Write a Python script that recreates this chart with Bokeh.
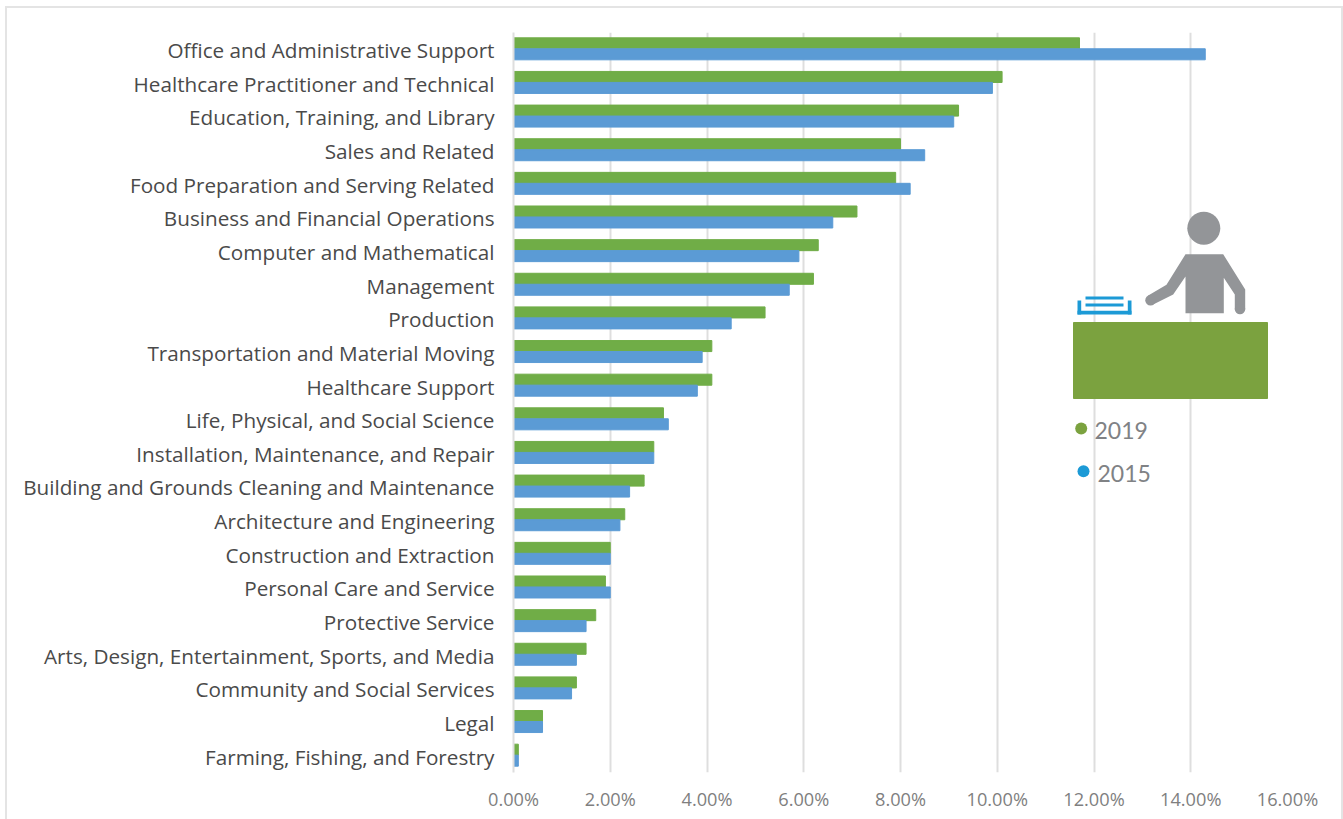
from bokeh.core.properties import value
from bokeh.embed import file_html
from bokeh.models import ColumnDataSource, FixedTicker, InlineStyleSheet, PrintfTickFormatter, Range1d
from bokeh.plotting import figure
from bokeh.resources import INLINE
from bokeh.transform import dodge

occupations = [
    "Office and Administrative Support", "Healthcare Practitioner and Technical",
    "Education, Training, and Library", "Sales and Related",
    "Food Preparation and Serving Related", "Business and Financial Operations",
    "Computer and Mathematical", "Management", "Production",
    "Transportation and Material Moving", "Healthcare Support",
    "Life, Physical, and Social Science", "Installation, Maintenance, and Repair",
    "Building and Grounds Cleaning and Maintenance", "Architecture and Engineering",
    "Construction and Extraction", "Personal Care and Service", "Protective Service",
    "Arts, Design, Entertainment, Sports, and Media", "Community and Social Services",
    "Legal", "Farming, Fishing, and Forestry",
]
share_2019 = [11.7, 10.1, 9.2, 8.0, 7.9, 7.1, 6.3, 6.2, 5.2, 4.1, 4.1,
              3.1, 2.9, 2.7, 2.3, 2.0, 1.9, 1.7, 1.5, 1.3, 0.6, 0.1]
share_2015 = [14.3, 9.9, 9.1, 8.5, 8.2, 6.6, 5.9, 5.7, 4.5, 3.9, 3.8,
              3.2, 2.9, 2.4, 2.2, 2.0, 2.0, 1.5, 1.3, 1.2, 0.6, 0.1]
x_ticks = [0, 2, 4, 6, 8, 10, 12, 14, 16]

GREEN = "#70AD47"
BLUE = "#5B9BD5"
GRID = "#DEDEDE"
ICON_GREY = "#939598"
ICON_GREEN = "#7BA23F"
ICON_BLUE = "#1C9AD6"

rows = list(range(len(occupations)))
source = ColumnDataSource(dict(row=rows, y2019=share_2019, y2015=share_2015))

# Thin page frame, open at the bottom
page_frame = InlineStyleSheet(css="""
:host::after {
  content: ""; position: absolute; left: 5px; top: 6px; right: 0; bottom: 0;
  border: 2px solid #E4E4E4; border-bottom: none; pointer-events: none;
}
""")

# Rows run top to bottom, so the vertical range is inverted
p = figure(width=1343, height=819, output_backend="svg", toolbar_location=None,
           x_range=Range1d(0, 16), y_range=Range1d(len(rows) - 0.485, -0.485),
           min_border_left=513, min_border_right=56, min_border_top=32, min_border_bottom=47,
           outline_line_color=None, background_fill_color="white", border_fill_color="white",
           stylesheets=[page_frame])

# Pixel-like ranges for the desk illustration and its legend
p.extra_x_ranges["px"] = Range1d(513, 1287)
p.extra_y_ranges["px"] = Range1d(772, 32)

p.hbar(y=dodge("row", -0.163), right="y2019", left=0, height=0.328, color=GREEN, source=source)
p.hbar(y=dodge("row", 0.163), right="y2015", left=0, height=0.328, color=BLUE, source=source)

p.xgrid.ticker = FixedTicker(ticks=x_ticks)
p.xgrid.grid_line_color = GRID
p.xgrid.grid_line_width = 2
p.ygrid.visible = False

p.xaxis.ticker = FixedTicker(ticks=x_ticks)
p.xaxis.formatter = PrintfTickFormatter(format="%.2f%%")
p.xaxis.axis_line_color = None
p.xaxis.major_tick_line_color = None
p.xaxis.major_tick_out = 0
p.xaxis.major_tick_in = 0
p.xaxis.minor_tick_line_color = None
p.xaxis.major_label_standoff = 14
p.xaxis.major_label_text_font = "Open Sans"
p.xaxis.major_label_text_font_size = "18.2px"
p.xaxis.major_label_text_color = "#7F7F7F"

# Category labels sit a little below the centre of their bar pair
label_ticks = [r + 0.04 for r in rows]
p.yaxis.ticker = FixedTicker(ticks=label_ticks)
p.yaxis.major_label_overrides = dict(zip(label_ticks, occupations))
p.yaxis.axis_line_color = GRID
p.yaxis.axis_line_width = 2
p.yaxis.major_tick_line_color = None
p.yaxis.major_tick_out = 0
p.yaxis.major_tick_in = 0
p.yaxis.minor_tick_line_color = None
p.yaxis.major_label_standoff = 19
p.yaxis.major_label_text_font = "Open Sans"
p.yaxis.major_label_text_font_size = "20.7px"
p.yaxis.major_label_text_color = "#4A4A4A"

# Desk, person and paper tray
icon = dict(x_range_name="px", y_range_name="px")
p.quad(left=[1073], right=[1267], top=[322], bottom=[398], color=ICON_GREEN, **icon)
p.scatter(x=[1203.3], y=[227.7], size=33, color=ICON_GREY, line_color=None, **icon)
p.patch(x=[1185, 1222.7, 1244.7, 1244.7, 1234.3, 1234.3, 1223.3, 1223.3, 1185, 1185,
           1172.7, 1152.7, 1147.3, 1166],
        y=[253.7, 253.7, 289, 309, 309, 294, 277.3, 312.7, 312.7, 276,
           294, 304, 295.3, 284.3],
        color=ICON_GREY, line_color=None, **icon)
p.scatter(x=[1239.5, 1150], y=[308.5, 299.7], size=10.5, color=ICON_GREY, line_color=None, **icon)
p.quad(left=[1085, 1085, 1077, 1127.3, 1077], right=[1123, 1123, 1080.7, 1131, 1131],
       top=[296, 303, 300, 300, 310.3], bottom=[299, 306, 314, 314, 314],
       color=ICON_BLUE, line_color=None, **icon)

# Legend dots and years
p.scatter(x=[1080.7, 1083], y=[428, 470.7], size=12, color=[ICON_GREEN, ICON_BLUE],
          line_color=None, **icon)
p.text(x=[1094, 1097], y=[430, 473], text=["2019", "2015"], text_font=value("Lato"),
       text_font_size="23px", text_color="#808285", text_baseline="middle", **icon)

open("out.html", "w").write(file_html(p, INLINE))
